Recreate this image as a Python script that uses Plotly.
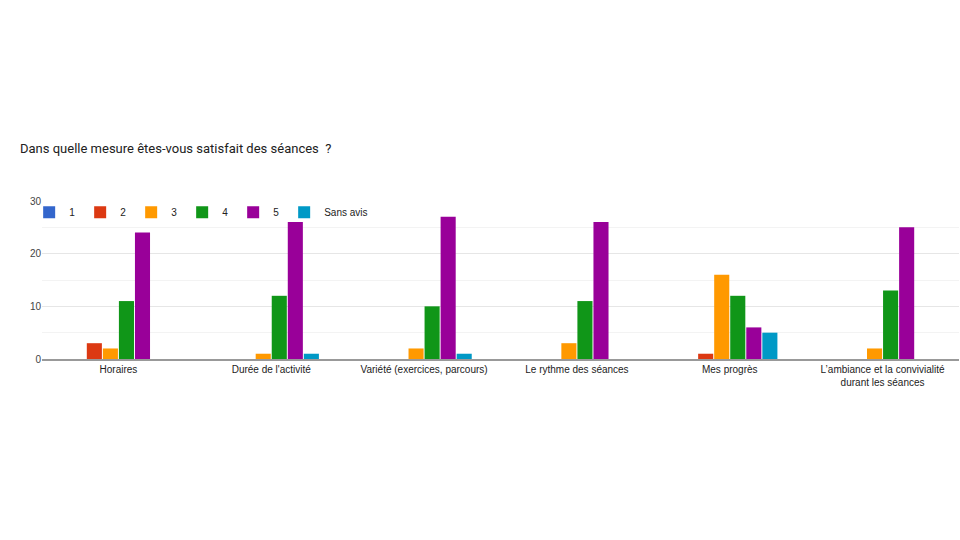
import plotly.graph_objects as go

categories = ["Horaires", "Durée de l'activité", "Variété (exercices, parcours)",
              "Le rythme des séances", "Mes progrès",
              "L’ambiance et la convivialité<br>durant les séances"]
series_names = ["1", "2", "3", "4", "5", "Sans avis"]
v1 = [0, 0, 0, 0, 0, 0]
v2 = [3, 0, 0, 0, 1, 0]
v3 = [2, 1, 2, 3, 16, 2]
v4 = [11, 12, 10, 11, 12, 13]
v5 = [24, 26, 27, 26, 6, 25]
v_sa = [0, 1, 1, 0, 5, 0]
colors = ["#3366cc", "#dc3912", "#ff9900", "#109618", "#990099", "#0099c6"]

fig = go.Figure()
for name, vals, col in zip(series_names, [v1, v2, v3, v4, v5, v_sa], colors):
    fig.add_trace(go.Bar(x=categories, y=vals, name=name,
                         marker=dict(color=col, line=dict(width=0))))

fig.update_layout(
    width=960, height=540,
    barmode="group", bargap=0.37, bargroupgap=0.06,
    paper_bgcolor="white", plot_bgcolor="white",
    margin=dict(l=42, r=1, t=201, b=181),
    font=dict(family="Arial, Liberation Sans", size=11, color="#444"),
    title=dict(text="Dans quelle mesure êtes-vous satisfait des séances  ?",
               x=20/960, xanchor="left", xref="container",
               y=1 - 148/540, yanchor="middle", yref="container",
               font=dict(family="Roboto", size=13, color="#212121")),
    legend=dict(orientation="h", x=-0.014, xanchor="left", y=1.02, yanchor="top",
                bgcolor="rgba(0,0,0,0)", font=dict(size=10, color="#222"),
                itemclick=False),
    showlegend=True,
)
fig.update_xaxes(showgrid=False, showline=True, linecolor="#999", linewidth=2,
                 ticks="", tickfont=dict(size=10, color="#222"))
fig.update_yaxes(range=[0, 30], dtick=10, showgrid=True, gridcolor="#e6e6e6",
                 gridwidth=1, zeroline=False, ticks="",
                 tickfont=dict(size=10, color="#444"),
                 minor=dict(dtick=5, showgrid=True, gridcolor="#f3f3f3"))

fig.write_html("out.html")
